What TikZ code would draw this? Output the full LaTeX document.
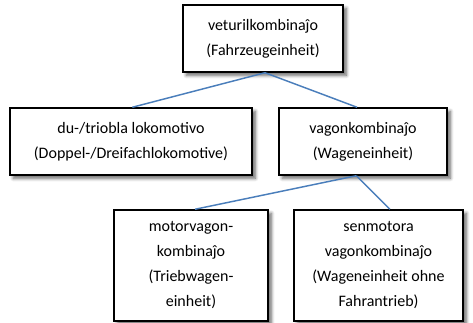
\documentclass[tikz,border=0pt]{standalone}
\usepackage{fontspec}
\setmainfont{Carlito}
\usetikzlibrary{shadows.blur}
\definecolor{linkblue}{HTML}{4A7EBB}
\begin{document}
\begin{tikzpicture}[x=0.75pt,y=-0.75pt,
  box/.style={draw=black, line width=1.1pt, fill=white, inner sep=0pt, align=center,
    font=\fontsize{12pt}{18.75pt}\selectfont,
    blur shadow={shadow xshift=2.5pt, shadow yshift=-2.5pt, shadow blur steps=6, shadow opacity=60, shadow blur radius=2.5pt}},
  link/.style={draw=linkblue, line width=1.1pt}]
\useasboundingbox (0,0) rectangle (473,323);
\node[box, minimum width=120pt, minimum height=50.25pt] (top) at (263,38.5) {veturilkombinaĵo\\(Fahrzeugeinheit)};
\node[box, minimum width=181.5pt, minimum height=50.25pt] (dl) at (131,141.5) {du-/triobla lokomotivo\\(Doppel-/Dreifachlokomotive)};
\node[box, minimum width=126pt, minimum height=50.25pt] (vk) at (363,141.5) {vagonkombinaĵo\\(Wageneinheit)};
\node[box, minimum width=115.5pt, minimum height=83.25pt] (mv) at (191,265.5) {motorvagon-\\kombinaĵo\\(Triebwagen-\\einheit)};
\node[box, minimum width=126.75pt, minimum height=83.25pt] (sv) at (378.5,265.5) {senmotora\\vagonkombinaĵo\\(Wageneinheit ohne\\Fahrantrieb)};
\draw[link] ([xshift=1.5pt]top.south) -- ([xshift=1pt]dl.north);
\draw[link] ([xshift=1.5pt]top.south) -- ([xshift=-4.5pt]vk.north);
\draw[link] ([xshift=-5pt]vk.south) -- ([xshift=3pt]mv.north);
\draw[link] ([xshift=-5pt]vk.south) -- ([xshift=8.6pt]sv.north);
\end{tikzpicture}
\end{document}
